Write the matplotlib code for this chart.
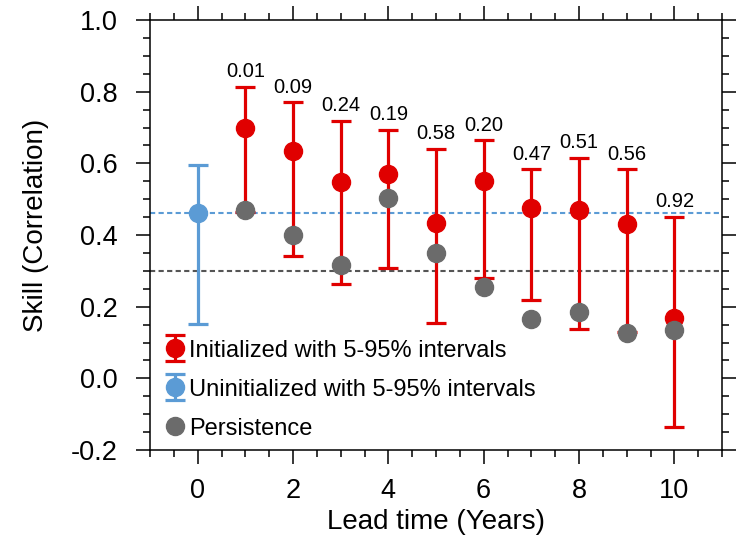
import matplotlib
matplotlib.use("Agg")
import matplotlib.pyplot as plt
import numpy as np
from matplotlib.ticker import MultipleLocator
from matplotlib.legend_handler import HandlerErrorbar

plt.rcParams['font.family'] = ['Liberation Sans', 'DejaVu Sans']

# Data
lead_init = [1, 2, 3, 4, 5, 6, 7, 8, 9, 10]
init_skill = [0.70, 0.634, 0.547, 0.569, 0.433, 0.551, 0.474, 0.470, 0.430, 0.169]
init_upper = [0.814, 0.770, 0.718, 0.694, 0.640, 0.664, 0.584, 0.616, 0.584, 0.451]
init_lower = [0.465, 0.341, 0.263, 0.309, 0.154, 0.279, 0.219, 0.138, 0.13, -0.137]
pvalues = ["0.01", "0.09", "0.24", "0.19", "0.58", "0.20", "0.47", "0.51", "0.56", "0.92"]

lead_uninit = [0]
uninit_skill = [0.462]
uninit_upper = [0.594]
uninit_lower = [0.151]

lead_pers = [1, 2, 3, 4, 5, 6, 7, 8, 9, 10]
pers_skill = [0.470, 0.400, 0.316, 0.504, 0.349, 0.254, 0.166, 0.185, 0.126, 0.135]

uninit_ref = 0.462
pers_ref = 0.30

yticks = [-0.2, 0.0, 0.2, 0.4, 0.6, 0.8, 1.0]
ytick_labels = ["-0.2", "0.0", "0.2", "0.4", "0.6", "0.8", "1.0"]
xticks = [0, 2, 4, 6, 8, 10]

RED = '#e00000'
BLUE = '#5b9bd5'
GRAY = '#6b6b6b'

fig = plt.figure(figsize=(7.38, 5.5), dpi=100)
ax = fig.add_axes([150/738, 1-450/550, (722-150)/738, (450-20)/550])

ax.axhline(uninit_ref, color=BLUE, lw=1.5, ls=(0, (2.5, 1.6)), zorder=1)
ax.axhline(pers_ref, color='#555555', lw=1.5, ls=(0, (2.5, 1.6)), zorder=1)

ie = np.array(init_skill)
yerr_i = [ie - np.array(init_lower), np.array(init_upper) - ie]
h_init = ax.errorbar(lead_init, init_skill, yerr=yerr_i, fmt='o', color=RED, ms=13,
                     elinewidth=2.3, capsize=7, capthick=2.3, zorder=3)
ue = np.array(uninit_skill)
yerr_u = [ue - np.array(uninit_lower), np.array(uninit_upper) - ue]
h_un = ax.errorbar(lead_uninit, uninit_skill, yerr=yerr_u, fmt='o', color=BLUE, ms=13,
                   elinewidth=2.3, capsize=7, capthick=2.3, zorder=3)
h_p, = ax.plot(lead_pers, pers_skill, 'o', color=GRAY, ms=13, zorder=4, ls='none')

for x, up, p in zip(lead_init, init_upper, pvalues):
    ax.annotate(p, (x, up), xytext=(0, 4), textcoords='offset points',
                ha='center', va='bottom', fontsize=14.5)

ax.set_xlim(-1, 11)
ax.set_ylim(-0.2, 1.0)
ax.set_xticks(xticks)
ax.xaxis.set_minor_locator(MultipleLocator(0.5))
ax.set_yticks(yticks)
ax.set_yticklabels(ytick_labels)
ax.yaxis.set_minor_locator(MultipleLocator(0.05))

ax.tick_params(which='both', direction='out', top=True, right=True, labelsize=19.5,
               width=1.1)
ax.tick_params(which='major', length=10)
ax.tick_params(which='minor', length=5)
ax.tick_params(axis='x', which='major', pad=10)
ax.tick_params(axis='y', which='major', pad=13)
for s in ax.spines.values():
    s.set_linewidth(1.1)

ax.set_xlabel("Lead time (Years)", fontsize=20, labelpad=4)
ax.set_ylabel("Skill (Correlation)", fontsize=20)
ax.yaxis.set_label_coords((49 - 150) / 572, (450 - 225) / 430)

leg = ax.legend([h_init, h_un, h_p],
                ["Initialized with 5-95% intervals", "Uninitialized with 5-95% intervals", "Persistence"],
                loc='lower left', bbox_to_anchor=(0.0, -0.02), frameon=False, fontsize=17,
                handlelength=0.55, handletextpad=0.3, labelspacing=0.72, borderaxespad=0.4,
                handler_map={type(h_init): HandlerErrorbar(xerr_size=0.6, yerr_size=0.55)})

fig.savefig("out.png", dpi=100)
